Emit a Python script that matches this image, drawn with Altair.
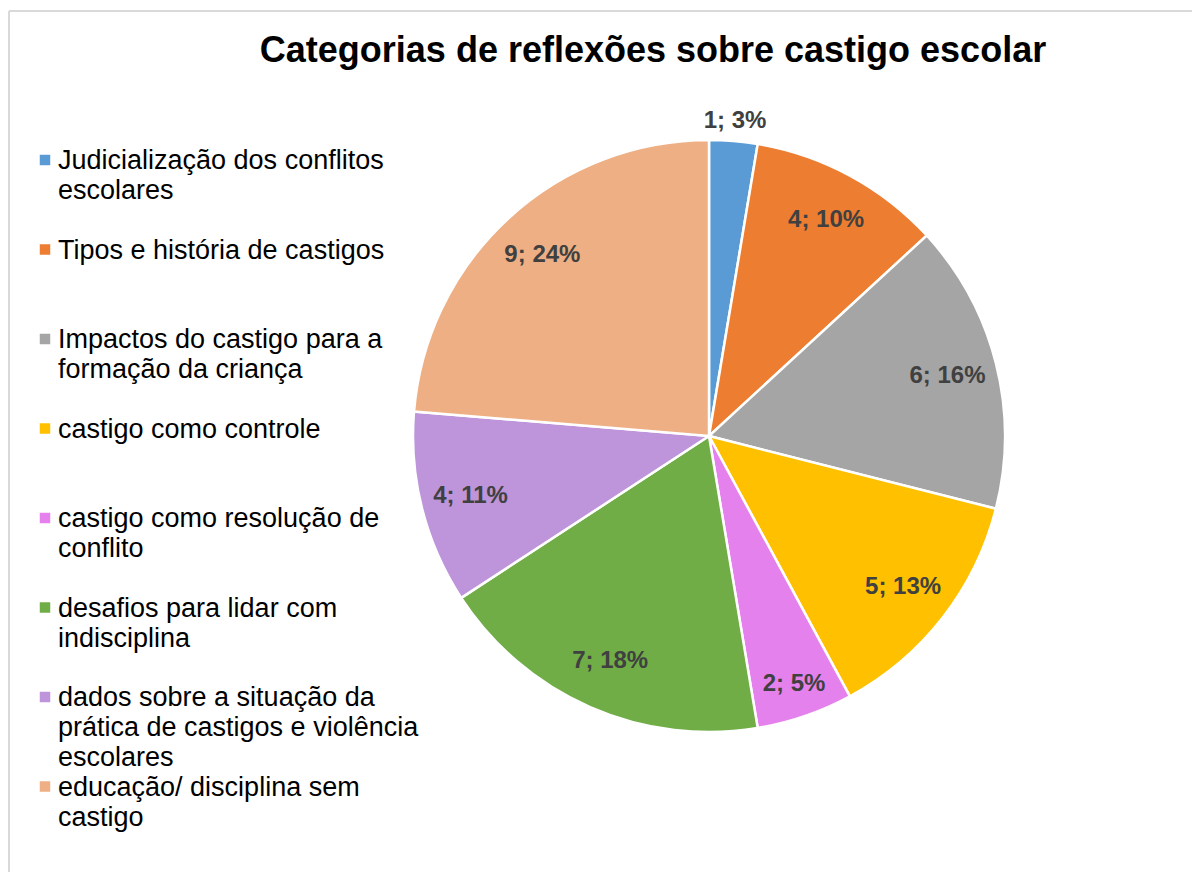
import altair as alt
import pandas as pd

title_text = "Categorias de reflexões sobre castigo escolar"

categories = [
    "Judicialização dos conflitos escolares",
    "Tipos e história de castigos",
    "Impactos do castigo para a formação da criança",
    "castigo como controle",
    "castigo como resolução de conflito",
    "desafios para lidar com indisciplina",
    "dados sobre a situação da prática de castigos e violência escolares",
    "educação/ disciplina sem castigo",
]
legend_labels = [
    "Judicialização dos conflitos\nescolares",
    "Tipos e história de castigos",
    "Impactos do castigo para a\nformação da criança",
    "castigo como controle",
    "castigo como resolução de\nconflito",
    "desafios para lidar com\nindisciplina",
    "dados sobre a situação da\nprática de castigos e violência\nescolares",
    "educação/ disciplina sem\ncastigo",
]
values = [1, 4, 6, 5, 2, 7, 4, 9]
labels = ["1; 3%", "4; 10%", "6; 16%", "5; 13%", "2; 5%", "7; 18%", "4; 11%", "9; 24%"]
colors = ["#5B9BD5", "#ED7D31", "#A5A5A5", "#FFC000", "#E581EC", "#70AD47", "#BE95DA", "#EEAF84"]

df = pd.DataFrame({
    "idx": list(range(len(categories))),
    "category": categories,
    "legend_label": legend_labels,
    "value": values,
    "label": labels,
})

FONT = "Liberation Sans"
CX, CY = 697, 424

color = alt.Color("category:N", scale=alt.Scale(domain=categories, range=colors), legend=None)
base = alt.Chart(df)

pie = base.mark_arc(outerRadius=296, stroke="white", strokeWidth=2.5).encode(
    theta=alt.Theta("value:Q", stack=True),
    color=color,
    order=alt.Order("idx:Q"),
    x=alt.value(CX),
    y=alt.value(CY),
)

pie_labels = base.transform_window(
    cum="sum(value)", sort=[alt.SortField("idx")], frame=[None, 0]
).transform_calculate(
    mid="datum.cum - datum.value / 2",
    r="datum.value == 1 ? 316 : (datum.value == 2 ? 262 : 246)",
).mark_text(fontSize=24, fontWeight="bold", font=FONT, color="#404040").encode(
    theta=alt.Theta("mid:Q", stack=None),
    radius=alt.Radius("r:Q", scale=None),
    text="label:N",
    x=alt.value(CX),
    y=alt.value(CY),
)

ypos = alt.Y("idx:Q", scale=alt.Scale(domain=[0, 7], range=[148, 774.5]), axis=None)

leg_sq = base.mark_square(size=110, opacity=1).encode(
    x=alt.value(33), y=ypos, color=color
)
leg_txt = base.mark_text(
    align="left", baseline="alphabetic", dy=9, fontSize=27, font=FONT,
    lineBreak="\n", lineHeight=30, color="#000000",
).encode(x=alt.value(46), y=ypos, text="legend_label:N")

title = alt.Chart(pd.DataFrame({"t": [title_text]})).mark_text(
    fontSize=36, fontWeight="bold", font=FONT, color="#000000",
    align="center", baseline="alphabetic",
).encode(text="t:N", x=alt.value(641), y=alt.value(50))

one = pd.DataFrame({"a": [0]})
border_top = alt.Chart(one).mark_rule(color="#d9d9d9", strokeWidth=2).encode(
    x=alt.value(-3), x2=alt.value(1200), y=alt.value(-1)
)
border_left = alt.Chart(one).mark_rule(color="#d9d9d9", strokeWidth=2).encode(
    x=alt.value(-3), y=alt.value(-1), y2=alt.value(880)
)

chart = alt.layer(border_top, border_left, pie, pie_labels, leg_sq, leg_txt, title).properties(
    width=1180, height=860,
    autosize=alt.AutoSizeParams(type="none"),
    padding={"left": 4, "top": 4, "right": 0, "bottom": 0},
    background="white",
).configure_view(stroke=None)

chart.save("out.html", embed_options={"renderer": "svg", "actions": False})
